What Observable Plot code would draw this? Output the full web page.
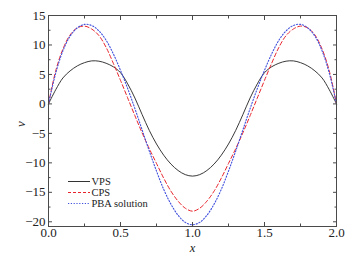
<!DOCTYPE html>
<html>
<head>
<meta charset="utf-8">
<script src="https://cdn.jsdelivr.net/npm/d3@7"></script>
<script src="https://cdn.jsdelivr.net/npm/@observablehq/plot@0.6"></script>
<style>
  html, body { margin: 0; padding: 0; background: #fff; }
  #chart { width: 354px; height: 256px; }
  #chart svg, #chart svg text { font-family: "Liberation Serif", "Times New Roman", "DejaVu Serif", serif !important; }
</style>
</head>
<body>
<div id="chart"></div>
<script>
// x positions
const xs = [0, 0.05, 0.1, 0.15, 0.2, 0.25, 0.3, 0.35, 0.4, 0.45, 0.5, 0.55, 0.6, 0.65, 0.7, 0.75, 0.8, 0.85, 0.9, 0.95, 1.0,
            1.05, 1.1, 1.15, 1.2, 1.25, 1.3, 1.35, 1.4, 1.45, 1.5, 1.55, 1.6, 1.65, 1.7, 1.75, 1.8, 1.85, 1.9, 1.95, 2.0];
// VPS (black solid)
const vps = [0, 2.4, 4.4, 5.6, 6.45, 7.0, 7.3, 7.25, 6.9, 6.3, 5.3, 3.4, 1.0, -1.8, -4.5, -6.8, -8.7, -10.2, -11.3, -12.0, -12.25,
             -12.0, -11.3, -10.2, -8.7, -6.8, -4.5, -1.8, 1.0, 3.4, 5.3, 6.3, 6.9, 7.25, 7.3, 7.0, 6.45, 5.6, 4.4, 2.4, 0];
// CPS (red dashed)
const cps = [0, 5.6, 9.3, 11.7, 12.9, 13.2, 12.7, 11.6, 9.6, 6.9, 4.0, 1.0, -2.0, -4.9, -7.6, -10.1, -12.6, -14.8, -16.5, -17.7, -18.2,
             -17.7, -16.5, -14.8, -12.6, -10.1, -7.6, -4.9, -2.0, 1.0, 4.0, 6.9, 9.6, 11.6, 12.7, 13.2, 12.9, 11.7, 9.3, 5.6, 0];
// PBA solution (blue dotted)
const pba = [0, 5.2, 9.0, 11.5, 12.9, 13.5, 13.3, 12.4, 10.8, 8.5, 5.7, 2.6, -0.8, -4.4, -8.0, -11.4, -14.5, -17.0, -18.9, -20.1, -20.5,
             -20.1, -18.9, -17.0, -14.5, -11.4, -8.0, -4.4, -0.8, 2.6, 5.7, 8.5, 10.8, 12.4, 13.3, 13.5, 12.9, 11.5, 9.0, 5.2, 0];

const seriesNames = ["VPS", "CPS", "PBA solution"];
const xMajor = [0, 0.5, 1.0, 1.5, 2.0];
const xMinor = [0.25, 0.75, 1.25, 1.75];
const yMajor = [-20, -15, -10, -5, 0, 5, 10, 15];
const yMinor = [-17.5, -12.5, -7.5, -2.5, 2.5, 7.5, 12.5];

const rows = xs.map((x, i) => ({x, vps: vps[i], cps: cps[i], pba: pba[i]}));

const frameColor = "#4a4a4a";
const fmtY = d => (d < 0 ? "\u2212" + Math.abs(d) : String(d));

const plot = Plot.plot({
  width: 354,
  height: 256,
  marginLeft: 48,
  marginRight: 18,
  marginTop: 15,
  marginBottom: 30,
  style: {fontSize: "13px", color: "#222", background: "#fff"},
  x: {domain: [0, 2], label: null},
  y: {domain: [-20.8, 15], label: null},
  marks: [
    Plot.line(rows, {x: "x", y: "vps", stroke: "#222", strokeWidth: 0.9, curve: "catmull-rom"}),
    Plot.line(rows, {x: "x", y: "cps", stroke: "#e8232b", strokeWidth: 1, strokeDasharray: "4,2.5", curve: "catmull-rom"}),
    Plot.line(rows, {x: "x", y: "pba", stroke: "#4050dc", strokeWidth: 1.1, strokeDasharray: "1.2,1.8", curve: "catmull-rom"}),
    Plot.frame({stroke: frameColor, strokeWidth: 1}),
    // inward ticks, all four sides
    Plot.axisX(xMajor, {anchor: "bottom", tickSize: -4, tickFormat: () => "", stroke: frameColor, label: null}),
    Plot.axisX(xMinor, {anchor: "bottom", tickSize: -2.5, tickFormat: () => "", stroke: frameColor, label: null}),
    Plot.axisX(xMajor, {anchor: "top", tickSize: -4, tickFormat: () => "", stroke: frameColor, label: null}),
    Plot.axisX(xMinor, {anchor: "top", tickSize: -2.5, tickFormat: () => "", stroke: frameColor, label: null}),
    Plot.axisY(yMajor, {anchor: "left", tickSize: -4, tickFormat: () => "", stroke: frameColor, label: null}),
    Plot.axisY(yMinor, {anchor: "left", tickSize: -2.5, tickFormat: () => "", stroke: frameColor, label: null}),
    Plot.axisY(yMajor, {anchor: "right", tickSize: -4, tickFormat: () => "", stroke: frameColor, label: null}),
    Plot.axisY(yMinor, {anchor: "right", tickSize: -2.5, tickFormat: () => "", stroke: frameColor, label: null}),
    // tick labels
    Plot.axisX(xMajor, {anchor: "bottom", tickSize: 0, tickPadding: 1, tickFormat: d => d.toFixed(1), label: null, fill: "#222"}),
    Plot.axisY(yMajor, {anchor: "left", tickSize: 0, tickPadding: 3, tickFormat: fmtY, label: null, fill: "#222"}),
    // axis titles
    Plot.text(["x"], {frameAnchor: "bottom", dy: 25, fontStyle: "italic", fontSize: 12.5, fill: "#222"}),
    Plot.text(["v"], {frameAnchor: "left", dx: -28, dy: 6, rotate: -90, fontStyle: "italic", fontSize: 13, fill: "#222"})
  ]
});

document.getElementById("chart").appendChild(plot);

// legend inside the plot area (lower left)
const svg = d3.select(plot);
const leg = svg.append("g").attr("font-size", 10.5).attr("fill", "#222").attr("text-anchor", "start");
const legStyles = [
  {stroke: "#333", dash: null, w: 1},
  {stroke: "#e8232b", dash: "3,2", w: 1},
  {stroke: "#4050dc", dash: "1.2,1.6", w: 1.1}
];
seriesNames.forEach((name, i) => {
  const y = 181.5 + i * 11;
  leg.append("line").attr("x1", 68).attr("x2", 90).attr("y1", y).attr("y2", y)
    .attr("stroke", legStyles[i].stroke).attr("stroke-width", legStyles[i].w)
    .attr("stroke-dasharray", legStyles[i].dash);
  leg.append("text").attr("x", 91.5).attr("y", y).attr("dy", "0.35em").attr("text-anchor", "start").text(name);
});
</script>
</body>
</html>
